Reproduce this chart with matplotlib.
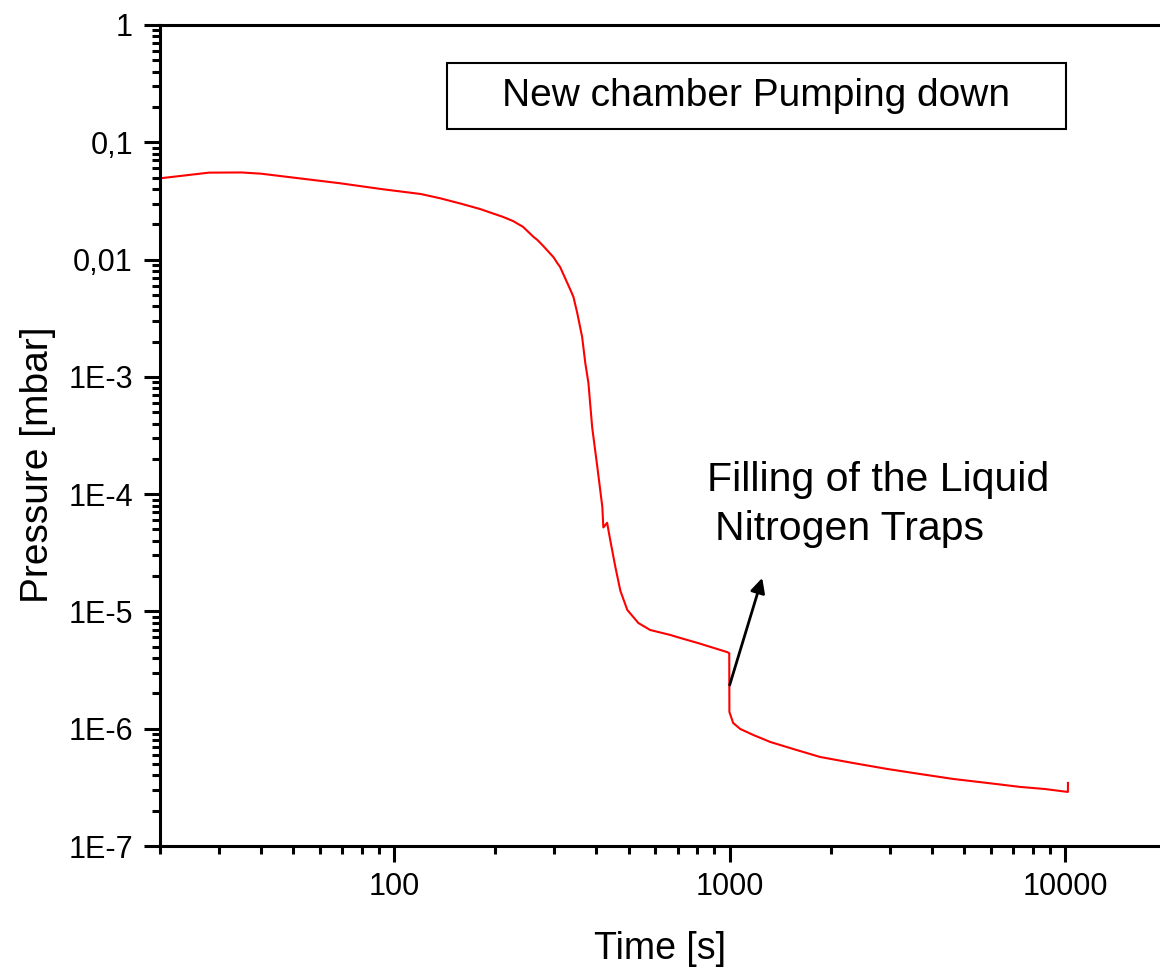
import matplotlib
matplotlib.use("Agg")
import matplotlib.pyplot as plt
from matplotlib.patches import Rectangle
from matplotlib.ticker import LogLocator, NullFormatter

plt.rcParams['font.family'] = ['Liberation Sans', 'DejaVu Sans']

# pump-down curve
time_s = [20, 28, 35, 40, 52, 69, 91, 120, 137, 157, 180, 197, 211, 226, 242,
          260, 267, 278, 298, 306, 312, 335, 342, 351, 363, 371, 379, 389,
          403, 417, 420, 431, 440, 456, 472, 495, 534, 579, 665, 712, 800,
          893, 983, 997, 998, 1024, 1075, 1175, 1321, 1546, 1861, 2334, 2947,
          3697, 4637, 5855, 7345, 8718, 10200, 10205]
pressure = [0.0493, 0.0551, 0.0553, 0.0540, 0.0493, 0.0447, 0.0400, 0.0362,
            0.0333, 0.0301, 0.0270, 0.0247, 0.0231, 0.0213, 0.0190, 0.0156,
            0.0147, 0.01305, 0.0105, 0.00935, 0.00865, 0.00551, 0.0048,
            0.00351, 0.00219, 0.00131, 8.9e-4, 3.7e-4, 1.7e-4, 7.8e-5, 5.2e-5,
            5.7e-5, 4.1e-5, 2.4e-5, 1.5e-5, 1.03e-5, 7.97e-6, 6.95e-6, 6.3e-6,
            5.94e-6, 5.4e-6, 4.9e-6, 4.5e-6, 4.4e-6, 1.39e-6, 1.12e-6,
            9.95e-7, 8.85e-7, 7.71e-7, 6.72e-7, 5.74e-7, 5.1e-7, 4.54e-7,
            4.11e-7, 3.73e-7, 3.45e-7, 3.19e-7, 3.06e-7, 2.89e-7, 3.45e-7]

x_ticks = [100, 1000, 10000]
x_labels = ['100', '1000', '10000']
y_ticks = [1e-7, 1e-6, 1e-5, 1e-4, 1e-3, 1e-2, 1e-1, 1]
y_labels = ['1E-7', '1E-6', '1E-5', '1E-4', '1E-3', '0,01', '0,1', '1']

title_text = 'New chamber Pumping down'
note_lines = ['Filling of the Liquid', 'Nitrogen Traps']
arrow_tail = (1000, 2.36e-6)
arrow_head = (1250, 1.93e-5)

fig = plt.figure(figsize=(11.6, 9.69), dpi=100)
ax = fig.add_axes([160 / 1160, 123 / 969, 1000 / 1160, 821 / 969])

ax.plot(time_s, pressure, color='red', lw=1.5)
ax.set_xscale('log')
ax.set_yscale('log')
ax.set_xlim(20, 19200)
ax.set_ylim(1e-7, 1)

ax.set_xticks(x_ticks)
ax.set_xticklabels(x_labels)
ax.set_yticks(y_ticks)
ax.set_yticklabels(y_labels)
ax.xaxis.set_minor_locator(LogLocator(base=10, subs=range(2, 10), numticks=20))
ax.yaxis.set_minor_locator(LogLocator(base=10, subs=range(2, 10), numticks=20))
ax.xaxis.set_minor_formatter(NullFormatter())
ax.yaxis.set_minor_formatter(NullFormatter())
ax.tick_params(which='major', direction='out', length=11.5, width=2.2,
               labelsize=22, pad=7)
ax.tick_params(which='minor', direction='out', length=5.5, width=2.2)
ax.tick_params(axis='y', which='major', pad=8)

for side in ['left', 'bottom', 'top']:
    ax.spines[side].set_linewidth(2.2)
ax.spines['right'].set_visible(False)

ax.set_xlabel('Time [s]', fontsize=27, labelpad=21)
ax.set_ylabel('Pressure [mbar]', fontsize=28)
ax.yaxis.set_label_coords(-0.104, 0.464)

ax.add_patch(Rectangle((0.287, 0.8733), 0.619, 0.0804, transform=ax.transAxes,
                       fill=False, lw=1.5, edgecolor='black'))
ax.text(0.5965, 0.9135, title_text, transform=ax.transAxes, fontsize=28,
        ha='center', va='center')

ax.text(0.547, 0.4324, note_lines[0], transform=ax.transAxes, fontsize=29.5,
        ha='left', va='baseline')
ax.text(0.555, 0.3727, note_lines[1], transform=ax.transAxes, fontsize=29.5,
        ha='left', va='baseline')
ax.annotate('', xy=arrow_head, xytext=arrow_tail,
            arrowprops=dict(arrowstyle='-|>', color='black', lw=2,
                            mutation_scale=22, shrinkA=0, shrinkB=0))

fig.savefig('out.png', dpi=100)
